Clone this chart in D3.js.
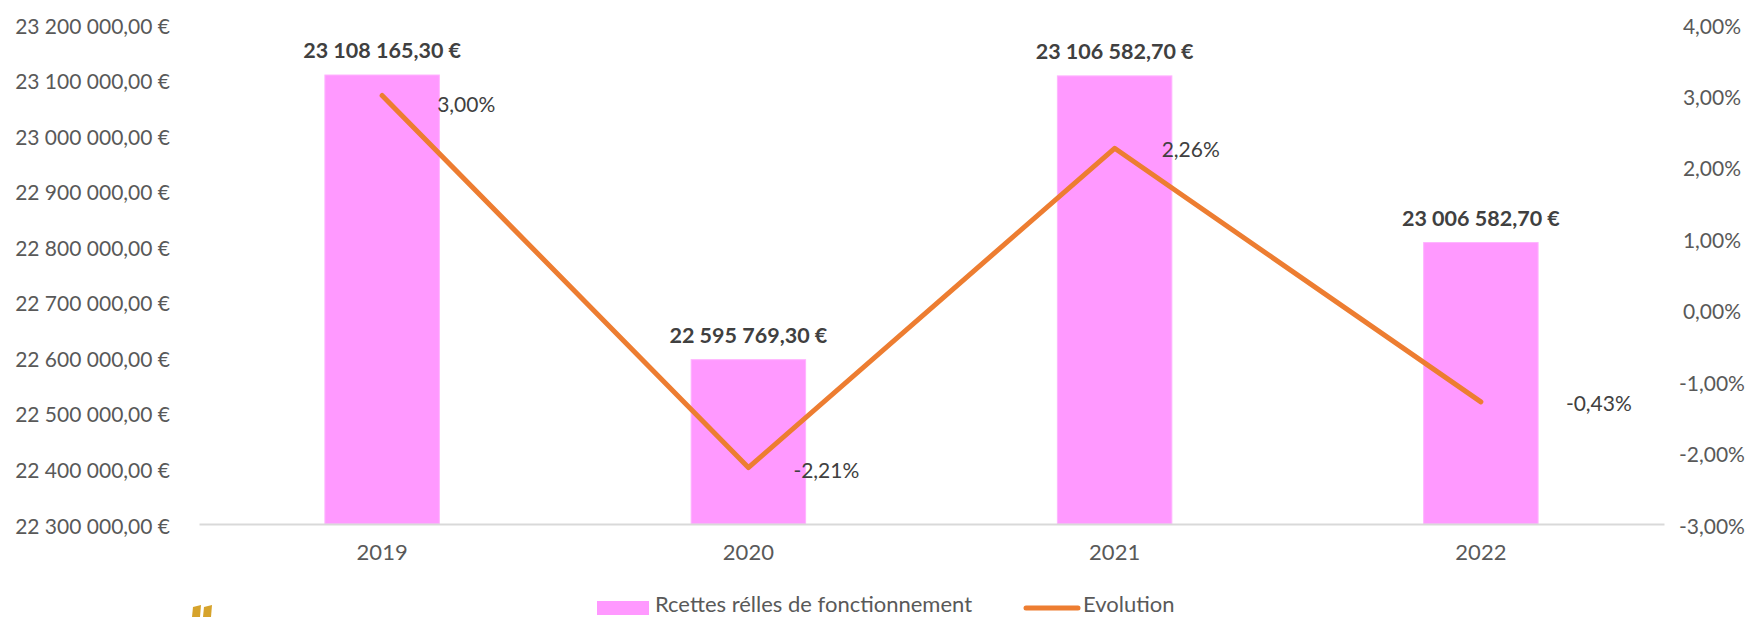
<!DOCTYPE html>
<html>
<head>
<meta charset="utf-8">
<script src="https://cdn.jsdelivr.net/npm/d3@7"></script>
<style>
  body { margin: 0; background: #fff; }
  text { font-family: Lato, "Open Sans", sans-serif; }
  .tick-label { font-size: 21px; fill: #595959; }
  .year-label { font-size: 22px; fill: #595959; }
  .legend-label { font-size: 22px; fill: #595959; }
  .bar-label { font-size: 21.5px; font-weight: bold; fill: #404040; }
  .line-label { font-size: 21px; fill: #404040; }
</style>
</head>
<body>
<svg id="chart"></svg>
<script>
// values
var years = ['2019', '2020', '2021', '2022'];
var recettes = [23108165.30, 22595769.30, 23106582.70, 22806582.70];
var recettesLabels = ['23 108 165,30 €', '22 595 769,30 €', '23 106 582,70 €', '23 006 582,70 €'];
var evolution = [0.0300, -0.0221, 0.0226, -0.0129];
var evolutionLabels = ['3,00%', '-2,21%', '2,26%', '-0,43%'];
var leftTicks = [22300000, 22400000, 22500000, 22600000, 22700000, 22800000, 22900000, 23000000, 23100000, 23200000];
var rightTicks = [-0.03, -0.02, -0.01, 0, 0.01, 0.02, 0.03, 0.04];
var legendLabels = ['Rcettes rélles de fonctionnement', 'Evolution'];

var width = 1752, height = 617;
var plot = { left: 199, right: 1664, top: 24, bottom: 524 };

var svg = d3.select('#chart')
            .attr('width', width)
            .attr('height', height);

var fr = d3.formatLocale({
    decimal: ',',
    thousands: ' ',
    grouping: [3],
    currency: ['', ' €'],
    minus: '-'
});
var fmtEuro = fr.format('$,.2f');
var fmtPct = fr.format('.2%');

var x = d3.scaleBand()
            .domain(years)
            .range([plot.left, plot.right]);
var barWidth = x.bandwidth() * 0.3125;

var yLeft = d3.scaleLinear()
            .domain([22300000, 23200000])
            .range([plot.bottom, plot.top]);

var yRight = d3.scaleLinear()
            .domain([-0.03, 0.04])
            .range([plot.bottom, plot.top]);

// left axis labels
svg.append('g')
    .selectAll('text')
    .data(leftTicks)
    .enter()
    .append('text')
        .classed('tick-label', true)
        .attr('x', 170)
        .attr('y', d => yLeft(d) + 1)
        .attr('dominant-baseline', 'central')
        .style('text-anchor', 'end')
        .text(d => fmtEuro(d));

// right axis labels
svg.append('g')
    .selectAll('text')
    .data(rightTicks)
    .enter()
    .append('text')
        .classed('tick-label', true)
        .attr('x', 1712)
        .attr('y', d => yRight(d) + 1)
        .attr('dominant-baseline', 'central')
        .style('text-anchor', 'middle')
        .text(d => fmtPct(d));

// bars
svg.append('g')
    .selectAll('rect')
    .data(recettes)
    .enter()
    .append('rect')
        .attr('x', (d, i) => x(years[i]) + (x.bandwidth() - barWidth) / 2)
        .attr('y', d => yLeft(d))
        .attr('width', barWidth)
        .attr('height', d => plot.bottom - yLeft(d))
        .attr('fill', '#ff99ff')
        .attr('stroke', '#ffb3ff')
        .attr('stroke-width', 1);

// category axis
var xAxis = svg.append('g')
    .attr('transform', `translate(0,${plot.bottom})`)
    .call(d3.axisBottom(x).tickSize(0).tickPadding(0));
xAxis.attr('font-size', null).attr('font-family', null);
xAxis.select('.domain')
    .attr('stroke', '#d9d9d9')
    .attr('stroke-width', 2);
xAxis.selectAll('.tick text')
    .attr('class', 'year-label')
    .attr('y', 27)
    .attr('dy', null)
    .attr('fill', null)
    .attr('dominant-baseline', 'central');

// bar labels
svg.append('g')
    .selectAll('text')
    .data(recettes)
    .enter()
    .append('text')
        .classed('bar-label', true)
        .attr('x', (d, i) => x(years[i]) + x.bandwidth() / 2)
        .attr('y', d => yLeft(d) - 25)
        .attr('dominant-baseline', 'central')
        .style('text-anchor', 'middle')
        .text((d, i) => recettesLabels[i]);

// evolution line
var line = d3.line()
            .x((d, i) => x(years[i]) + x.bandwidth() / 2)
            .y(d => yRight(d));

svg.append('path')
    .datum(evolution)
    .attr('d', line)
    .attr('fill', 'none')
    .attr('stroke', '#ed7d31')
    .attr('stroke-width', 5)
    .attr('stroke-linecap', 'round')
    .attr('stroke-linejoin', 'round');

// line labels, nudged the way they sit in the original
var labelDx = [55, 45, 47, 85];
var labelDy = [8, 2, 0, 1];
svg.append('g')
    .selectAll('text')
    .data(evolution)
    .enter()
    .append('text')
        .classed('line-label', true)
        .attr('x', (d, i) => x(years[i]) + x.bandwidth() / 2 + labelDx[i])
        .attr('y', (d, i) => yRight(d) + labelDy[i])
        .attr('dominant-baseline', 'central')
        .text((d, i) => evolutionLabels[i]);

// legend
var legend = svg.append('g');
legend.append('rect')
    .attr('x', 597)
    .attr('y', 601)
    .attr('width', 52)
    .attr('height', 14)
    .attr('fill', '#ff99ff');
legend.append('text')
    .classed('legend-label', true)
    .attr('x', 655)
    .attr('y', 612)
    .text(legendLabels[0]);
legend.append('line')
    .attr('x1', 1026)
    .attr('x2', 1078)
    .attr('y1', 608)
    .attr('y2', 608)
    .attr('stroke', '#ed7d31')
    .attr('stroke-width', 5)
    .attr('stroke-linecap', 'round');
legend.append('text')
    .classed('legend-label', true)
    .attr('x', 1083)
    .attr('y', 612)
    .text(legendLabels[1]);

// bit of a logo peeking in at the bottom left
var logo = svg.append('g').attr('fill', '#d6a32c');
logo.append('path').attr('d', 'M192,617 L193,607 L201,605 L200,617 Z');
logo.append('path').attr('d', 'M203,617 L204,607 L212,605 L211,617 Z');
</script>
</body>
</html>
